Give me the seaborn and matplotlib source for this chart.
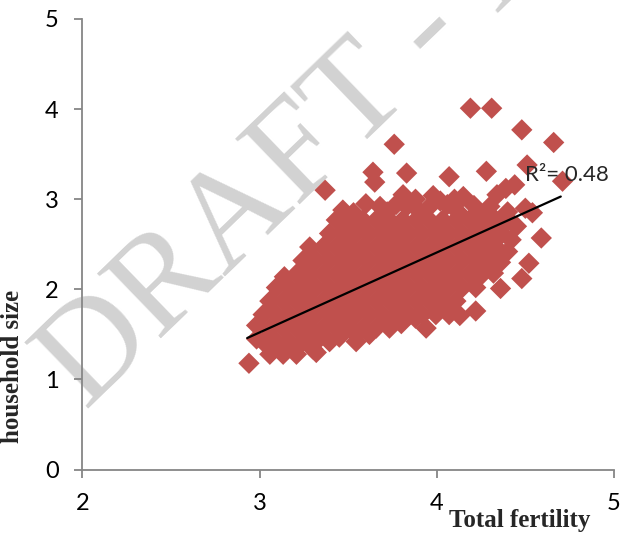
import matplotlib
matplotlib.use("Agg")
import matplotlib.pyplot as plt
import seaborn as sns

# ---- data ----
total_fertility = [
    # isolated points
    4.19, 4.31, 4.48, 4.66, 3.76, 3.64, 3.83, 4.28, 4.07, 3.65, 3.37, 4.51, 4.71,
    4.44, 4.59, 4.52, 4.48, 4.36, 4.22, 4.13, 3.94, 2.94, 4.50, 4.54, 4.39, 3.14,
    # ragged edge points
    3.47, 3.53, 3.72, 3.90, 4.12, 4.25, 3.88, 4.02, 4.10,
    4.42, 4.40, 4.36, 4.32, 4.45, 4.40,
    3.30, 3.45, 3.62, 3.80, 3.88,
    # row ~3.05
    3.81, 3.98, 4.15, 4.34,
    # row ~2.92
    3.60, 3.68, 3.77, 3.83, 3.96, 4.06, 4.21, 4.30,
    # row ~2.77
    3.433, 3.508, 3.583, 3.658, 3.733, 3.808, 3.883, 3.958, 4.033, 4.108, 4.183, 4.258, 4.333, 4.408,
    # row ~2.62
    3.395, 3.470, 3.545, 3.620, 3.695, 3.770, 3.845, 3.920, 3.995, 4.070, 4.145, 4.220, 4.295, 4.370,
    # row ~2.47
    3.283, 3.358, 3.433, 3.508, 3.583, 3.658, 3.733, 3.808, 3.883, 3.958, 4.033, 4.108, 4.183, 4.258, 4.333,
    # row ~2.32
    3.245, 3.320, 3.395, 3.470, 3.545, 3.620, 3.695, 3.770, 3.845, 3.920, 3.995, 4.070, 4.145, 4.220, 4.295,
    # row ~2.17
    3.208, 3.283, 3.358, 3.433, 3.508, 3.583, 3.658, 3.733, 3.808, 3.883, 3.958, 4.033, 4.108, 4.183, 4.258,
    # row ~2.02
    3.095, 3.170, 3.245, 3.320, 3.395, 3.470, 3.545, 3.620, 3.695, 3.770, 3.845, 3.920, 3.995, 4.070, 4.145, 4.220,
    # row ~1.87
    3.058, 3.133, 3.208, 3.283, 3.358, 3.433, 3.508, 3.583, 3.658, 3.733, 3.808, 3.883, 3.958, 4.033, 4.108,
    # row ~1.72
    3.020, 3.095, 3.170, 3.245, 3.320, 3.395, 3.470, 3.545, 3.620, 3.695, 3.770, 3.845, 3.920, 3.995, 4.070,
    # row ~1.57
    2.983, 3.058, 3.133, 3.208, 3.283, 3.358, 3.433, 3.508, 3.583, 3.658, 3.733,
    # row ~1.42
    2.983, 3.020, 3.095, 3.170, 3.245, 3.320, 3.395, 3.545,
    # row ~1.28
    3.058, 3.133, 3.208, 3.320,
]
household_size = [
    # isolated points
    4.01, 4.01, 3.77, 3.63, 3.61, 3.30, 3.29, 3.31, 3.25, 3.19, 3.10, 3.38, 3.20,
    3.16, 2.57, 2.29, 2.12, 2.01, 1.76, 1.71, 1.57, 1.18, 2.90, 2.85, 3.12, 2.14,
    # ragged edge points
    2.88, 2.85, 2.86, 2.87, 2.86, 2.82, 3.00, 2.98, 3.00,
    2.55, 2.42, 2.30, 2.18, 2.70, 2.86,
    1.34, 1.47, 1.50, 1.62, 1.68,
    # row ~3.05
    3.05, 3.04, 3.03, 3.05,
    # row ~2.92
    2.95, 2.92, 2.94, 2.92, 2.92, 2.94, 2.93, 2.92,
    # row ~2.77
    2.77, 2.77, 2.77, 2.77, 2.77, 2.77, 2.77, 2.77, 2.77, 2.77, 2.77, 2.77, 2.77, 2.77,
    # row ~2.62
    2.62, 2.62, 2.62, 2.62, 2.62, 2.62, 2.62, 2.62, 2.62, 2.62, 2.62, 2.62, 2.62, 2.62,
    # row ~2.47
    2.47, 2.47, 2.47, 2.47, 2.47, 2.47, 2.47, 2.47, 2.47, 2.47, 2.47, 2.47, 2.47, 2.47, 2.47,
    # row ~2.32
    2.32, 2.32, 2.32, 2.32, 2.32, 2.32, 2.32, 2.32, 2.32, 2.32, 2.32, 2.32, 2.32, 2.32, 2.32,
    # row ~2.17
    2.17, 2.17, 2.17, 2.17, 2.17, 2.17, 2.17, 2.17, 2.17, 2.17, 2.17, 2.17, 2.17, 2.17, 2.17,
    # row ~2.02
    2.02, 2.02, 2.02, 2.02, 2.02, 2.02, 2.02, 2.02, 2.02, 2.02, 2.02, 2.02, 2.02, 2.02, 2.02, 2.02,
    # row ~1.87
    1.87, 1.87, 1.87, 1.87, 1.87, 1.87, 1.87, 1.87, 1.87, 1.87, 1.87, 1.87, 1.87, 1.87, 1.87,
    # row ~1.72
    1.72, 1.72, 1.72, 1.72, 1.72, 1.72, 1.72, 1.72, 1.72, 1.72, 1.72, 1.72, 1.72, 1.72, 1.72,
    # row ~1.57
    1.60, 1.57, 1.57, 1.57, 1.57, 1.57, 1.57, 1.57, 1.57, 1.57, 1.57,
    # row ~1.42
    1.45, 1.42, 1.42, 1.42, 1.42, 1.42, 1.42, 1.42,
    # row ~1.28
    1.28, 1.28, 1.28, 1.30,
]
trend_fertility = [2.93, 4.70]
trend_household = [1.46, 3.03]
r2_label = "R²= 0.48"
x_ticks = [2, 3, 4, 5]
y_ticks = [0, 1, 2, 3, 4, 5]
x_label = "Total fertility"
y_label = "household size"
watermark = "DRAFT - I"

# ---- style ----
sns.set_style("white")
plt.rcParams['font.family'] = ['Lato', 'DejaVu Sans']

fig = plt.figure(figsize=(6.22, 5.35), dpi=100)
ax = fig.add_axes([0.1325, 0.1222, 0.8545, 0.8423])
ax.set_facecolor('none')

fig.text(0.138, 0.232, watermark, rotation=44, rotation_mode='anchor',
         fontsize=100, family=['Liberation Serif'], color='#d2d2d2',
         ha='left', va='baseline', zorder=-1)

sns.scatterplot(x=total_fertility, y=household_size, marker='D', s=118,
                color='#C0504D', edgecolor='none', linewidth=0, ax=ax, zorder=2)
sns.lineplot(x=trend_fertility, y=trend_household, color='black', linewidth=1.6,
             ax=ax, zorder=3)

ax.text(4.50, 3.27, r2_label, fontsize=16, ha='left', va='center', zorder=4)

ax.set_xlim(2, 5)
ax.set_ylim(0, 5)
ax.set_xticks(x_ticks)
ax.set_yticks(y_ticks)
ax.set_xticklabels([str(t) for t in x_ticks])
ax.set_yticklabels([str(t) for t in y_ticks])

for s in ['top', 'right']:
    ax.spines[s].set_visible(False)
for s in ['left', 'bottom']:
    ax.spines[s].set_color('#868686')
    ax.spines[s].set_linewidth(1.3)

ax.tick_params(axis='both', direction='out', length=6, width=1.3, color='#868686',
               pad=11, labelsize=17, labelcolor='black', bottom=True, left=True)

ax.set_xlabel(x_label, fontsize=18, fontweight='bold', family=['Liberation Serif'])
ax.xaxis.set_label_coords(0.823, -0.112)
ax.xaxis.label.set_va('center')
ax.set_ylabel(y_label, fontsize=18, fontweight='bold', family=['Liberation Serif'])
ax.yaxis.set_label_coords(-0.132, 0.228)
ax.yaxis.label.set_va('center')
ax.yaxis.label.set_ha('center')

fig.savefig("out.png", dpi=100)
